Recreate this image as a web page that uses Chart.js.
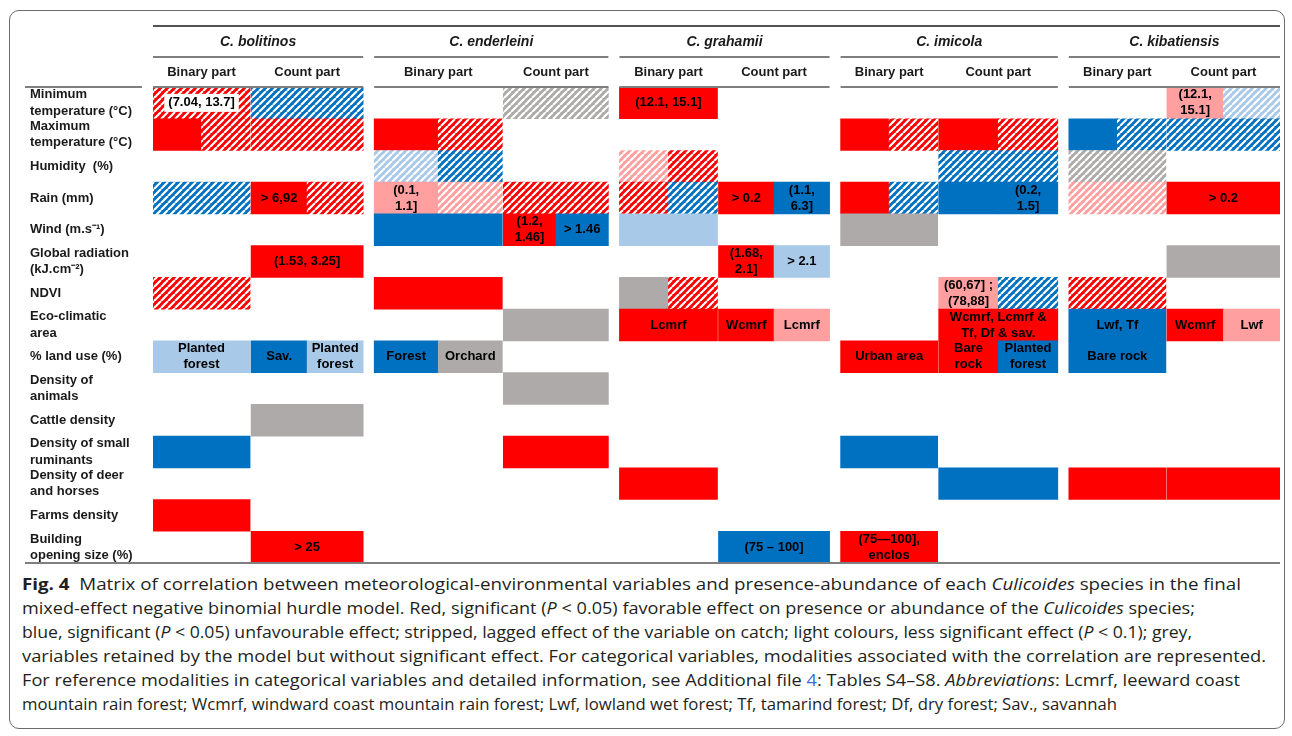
<!DOCTYPE html>
<html lang="en">
<head>
    <meta charset="UTF-8">
    <title>Fig. 4 Culicoides correlation matrix</title>
    <script src="https://cdn.jsdelivr.net/npm/chart.js"></script>
    <style>
        body {
            margin: 0;
            background: #ffffff;
            font-family: 'Liberation Sans', Arial, sans-serif;
        }

        .frame {
            position: absolute;
            left: 9px;
            top: 10px;
            width: 1274px;
            height: 717px;
            border: 1.5px solid #6b6b6b;
            border-radius: 10px;
        }

        .chart-box {
            position: absolute;
            left: 0;
            top: 0;
            width: 1292px;
            height: 570px;
        }

        .caption {
            position: absolute;
            left: 22px;
            top: 572px;
            font-family: 'Open Sans', 'Noto Sans', sans-serif;
            font-size: 16px;
            color: #231f20;
            line-height: 24px;
        }

        .caption .ln {
            display: block;
            width: max-content;
            white-space: nowrap;
            transform-origin: left center;
        }

        .caption .link { color: #3d6fd1; }
    </style>
</head>
<body>
    <div class="frame"></div>
    <div class="chart-box"><canvas id="matrix"></canvas></div>
    <div class="caption">
        <span class="ln" data-w="1219"><b>Fig. 4</b>&nbsp; Matrix of correlation between meteorological-environmental variables and presence-abundance of each <i>Culicoides</i> species in the final</span>
        <span class="ln" data-w="1173">mixed-effect negative binomial hurdle model. Red, significant (<i>P</i> &lt; 0.05) favorable effect on presence or abundance of the <i>Culicoides</i> species;</span>
        <span class="ln" data-w="1170">blue, significant (<i>P</i> &lt; 0.05) unfavourable effect; stripped, lagged effect of the variable on catch; light colours, less significant effect (<i>P</i> &lt; 0.1); grey,</span>
        <span class="ln" data-w="1244">variables retained by the model but without significant effect. For categorical variables, modalities associated with the correlation are represented.</span>
        <span class="ln" data-w="1218">For reference modalities in categorical variables and detailed information, see Additional file <span class="link">4</span>: Tables S4–S8. <i>Abbreviations</i>: Lcmrf, leeward coast</span>
        <span class="ln" data-w="1095">mountain rain forest; Wcmrf, windward coast mountain rain forest; Lwf, lowland wet forest; Tf, tamarind forest; Df, dry forest; Sav., savannah</span>
    </div>
    <script>
        // rows of the matrix
        const variables = [
            'Minimum temperature (°C)', 'Maximum temperature (°C)', 'Humidity (%)', 'Rain (mm)',
            'Wind (m.s-1)', 'Global radiation (kJ.cm-2)', 'NDVI', 'Eco-climatic area',
            '% land use (%)', 'Density of animals', 'Cattle density', 'Density of small ruminants',
            'Density of deer and horses', 'Farms density', 'Building opening size (%)'
        ];
        const variableLabels = [
            ['Minimum', 'temperature (°C)'], ['Maximum', 'temperature (°C)'], 'Humidity  (%)', 'Rain (mm)',
            'Wind (m.s⁻¹)', ['Global radiation', '(kJ.cm⁻²)'], 'NDVI', ['Eco-climatic', 'area'],
            '% land use (%)', ['Density of', 'animals'], 'Cattle density', ['Density of small', 'ruminants'],
            ['Density of deer', 'and horses'], 'Farms density', ['Building', 'opening size (%)']
        ];

        const species = ['C. bolitinos', 'C. enderleini', 'C. grahamii', 'C. imicola', 'C. kibatiensis'];
        const parts = ['Binary part', 'Count part'];

        // cell = [variable, part (0 binary, 1 count), half (0 whole, 1 left, 2 right), effect, lagged, modality]
        // effect: R significant favourable, B significant unfavourable, r / b less significant, G not significant
        const bolitinos = [
            [0, 0, 0, 'R', 1, '(7.04, 13.7]'],
            [0, 1, 0, 'B', 1, ''],
            [1, 0, 1, 'R', 0, ''],
            [1, 0, 2, 'R', 1, ''],
            [1, 1, 0, 'R', 1, ''],
            [3, 0, 0, 'B', 1, ''],
            [3, 1, 1, 'R', 0, '> 6,92'],
            [3, 1, 2, 'R', 1, ''],
            [5, 1, 0, 'R', 0, '(1.53, 3.25]'],
            [6, 0, 0, 'R', 1, ''],
            [8, 0, 0, 'b', 0, 'Planted\nforest'],
            [8, 1, 1, 'B', 0, 'Sav.'],
            [8, 1, 2, 'b', 0, 'Planted\nforest'],
            [10, 1, 0, 'G', 0, ''],
            [11, 0, 0, 'B', 0, ''],
            [13, 0, 0, 'R', 0, ''],
            [14, 1, 0, 'R', 0, '> 25']
        ];
        const enderleini = [
            [0, 1, 0, 'G', 1, ''],
            [1, 0, 1, 'R', 0, ''],
            [1, 0, 2, 'R', 1, ''],
            [2, 0, 1, 'b', 1, ''],
            [2, 0, 2, 'B', 1, ''],
            [3, 0, 1, 'r', 0, '(0.1,\n1.1]'],
            [3, 0, 2, 'r', 1, ''],
            [3, 1, 0, 'R', 1, ''],
            [4, 0, 0, 'B', 0, ''],
            [4, 1, 1, 'R', 0, '(1.2,\n1.46]'],
            [4, 1, 2, 'B', 0, '> 1.46'],
            [6, 0, 0, 'R', 0, ''],
            [7, 1, 0, 'G', 0, ''],
            [8, 0, 1, 'B', 0, 'Forest'],
            [8, 0, 2, 'G', 0, 'Orchard'],
            [9, 1, 0, 'G', 0, ''],
            [11, 1, 0, 'R', 0, '']
        ];
        const grahamii = [
            [0, 0, 0, 'R', 0, '(12.1, 15.1]'],
            [2, 0, 1, 'r', 1, ''],
            [2, 0, 2, 'R', 1, ''],
            [3, 0, 1, 'R', 1, ''],
            [3, 0, 2, 'B', 1, ''],
            [3, 1, 1, 'R', 0, '> 0.2'],
            [3, 1, 2, 'B', 0, '(1.1,\n6.3]'],
            [4, 0, 0, 'b', 0, ''],
            [5, 1, 1, 'R', 0, '(1.68,\n2.1]'],
            [5, 1, 2, 'b', 0, '> 2.1'],
            [6, 0, 1, 'G', 0, ''],
            [6, 0, 2, 'R', 1, ''],
            [7, 0, 0, 'R', 0, 'Lcmrf'],
            [7, 1, 1, 'R', 0, 'Wcmrf'],
            [7, 1, 2, 'r', 0, 'Lcmrf'],
            [12, 0, 0, 'R', 0, ''],
            [14, 1, 0, 'B', 0, '(75 – 100]']
        ];
        const imicola = [
            [1, 0, 1, 'R', 0, ''],
            [1, 0, 2, 'R', 1, ''],
            [1, 1, 1, 'R', 0, ''],
            [1, 1, 2, 'R', 1, ''],
            [2, 1, 0, 'B', 1, ''],
            [3, 0, 1, 'R', 0, ''],
            [3, 0, 2, 'B', 1, ''],
            [3, 1, 1, 'B', 0, ''],
            [3, 1, 2, 'B', 0, '(0.2,\n1.5]'],
            [4, 0, 0, 'G', 0, ''],
            [6, 1, 1, 'r', 0, '(60,67] ;\n(78,88]'],
            [6, 1, 2, 'B', 1, ''],
            [7, 1, 0, 'R', 0, 'Wcmrf, Lcmrf &\nTf, Df & sav.'],
            [8, 0, 0, 'R', 0, 'Urban area'],
            [8, 1, 1, 'R', 0, 'Bare\nrock'],
            [8, 1, 2, 'B', 0, 'Planted\nforest'],
            [11, 0, 0, 'B', 0, ''],
            [12, 1, 0, 'B', 0, ''],
            [14, 0, 0, 'R', 0, '(75—100],\nenclos']
        ];
        const kibatiensis = [
            [0, 1, 1, 'r', 0, '(12.1,\n15.1]'],
            [0, 1, 2, 'b', 1, ''],
            [1, 0, 1, 'B', 0, ''],
            [1, 0, 2, 'B', 1, ''],
            [1, 1, 0, 'B', 1, ''],
            [2, 0, 0, 'G', 1, ''],
            [3, 0, 0, 'r', 1, ''],
            [3, 1, 0, 'R', 0, '> 0.2'],
            [5, 1, 0, 'G', 0, ''],
            [6, 0, 0, 'R', 1, ''],
            [7, 0, 0, 'B', 0, 'Lwf, Tf'],
            [7, 1, 1, 'R', 0, 'Wcmrf'],
            [7, 1, 2, 'r', 0, 'Lwf'],
            [8, 0, 0, 'B', 0, 'Bare rock'],
            [12, 0, 0, 'R', 0, ''],
            [12, 1, 0, 'R', 0, '']
        ];
        const speciesCells = [bolitinos, enderleini, grahamii, imicola, kibatiensis];

        // layout of the columns (px units on the x axis)
        const colWidths = [[97, 112], [128, 105], [98, 111], [97, 119], [97, 113]];
        const blockGap = 11;
        const partGap = 1;
        const boxedLabels = ['(7.04, 13.7]'];

        const effectColors = {
            R: '#ff0000', B: '#0070c0', r: '#ff9f9f', b: '#a9c9e8', G: '#aeaaaa'
        };

        // column edges
        const blocks = [];
        let pos = 0;
        colWidths.forEach(([wb, wc]) => {
            blocks.push({ start: pos, binEnd: pos + wb, cntStart: pos + wb + partGap, end: pos + wb + partGap + wc });
            pos += wb + partGap + wc + blockGap;
        });
        const xMax = pos - blockGap;

        function partRange(s, p) {
            const b = blocks[s];
            return p === 0 ? [b.start, b.binEnd] : [b.cntStart, b.end];
        }

        const cells = [];
        speciesCells.forEach((list, s) => {
            list.forEach(([v, p, h, fx, lag, text]) => {
                const [a, b] = partRange(s, p);
                const mid = (a + b) / 2;
                const range = h === 0 ? [a, b] : h === 1 ? [a, mid] : [mid, b];
                cells.push({ v, range, fx, lag, text });
            });
        });

        const patternCache = {};
        function hatch(color) {
            if (patternCache[color]) return patternCache[color];
            const size = 7;
            const c = document.createElement('canvas');
            c.width = size;
            c.height = size;
            const g = c.getContext('2d');
            g.fillStyle = color;
            g.fillRect(0, 0, size, size);
            g.strokeStyle = '#ffffff';
            g.lineWidth = 2.2;
            g.beginPath();
            [-size, 0, size].forEach(o => {
                g.moveTo(o, size);
                g.lineTo(o + size, 0);
            });
            g.stroke();
            patternCache[color] = g.createPattern(c, 'repeat');
            return patternCache[color];
        }

        const labelFont = "bold 13px 'Liberation Sans', Arial, sans-serif";

        const matrixDecor = {
            id: 'matrixDecor',
            afterDatasetsDraw(chart) {
                const ctx = chart.ctx;
                const meta = chart.getDatasetMeta(0);
                ctx.save();
                ctx.font = labelFont;
                ctx.textAlign = 'center';
                ctx.textBaseline = 'middle';
                meta.data.forEach((bar, i) => {
                    const cell = cells[i];
                    if (!cell.text) return;
                    const { x, base, y } = bar.getProps(['x', 'base', 'y'], true);
                    const cx = (x + base) / 2;
                    const lines = cell.text.split('\n');
                    if (boxedLabels.includes(cell.text)) {
                        const w = ctx.measureText(cell.text).width + 8;
                        ctx.fillStyle = '#ffffff';
                        ctx.fillRect(cx - w / 2, y - 9, w, 18);
                    }
                    ctx.fillStyle = '#000000';
                    lines.forEach((ln, k) => {
                        ctx.fillText(ln, cx, y + (k - (lines.length - 1) / 2) * 16);
                    });
                });
                ctx.restore();
            },
            afterDraw(chart) {
                const ctx = chart.ctx;
                const xs = chart.scales.x;
                const area = chart.chartArea;
                const px = v => xs.getPixelForValue(v);
                ctx.save();

                const hline = (x0, x1, y, color, w) => {
                    ctx.strokeStyle = color;
                    ctx.lineWidth = w;
                    ctx.beginPath();
                    ctx.moveTo(x0, y);
                    ctx.lineTo(x1, y);
                    ctx.stroke();
                };

                hline(px(0), px(xMax), 26, '#1a1a1a', 1.6);
                hline(25, 142, area.top, '#7f7f7f', 1.8);
                hline(25, px(xMax), area.bottom, '#7f7f7f', 1.8);

                ctx.fillStyle = '#1a1a1a';
                ctx.textAlign = 'center';
                ctx.textBaseline = 'middle';
                blocks.forEach((b, s) => {
                    hline(px(b.start), px(b.end), 57, '#7f7f7f', 1.8);
                    hline(px(b.start), px(b.end), area.top, '#7f7f7f', 1.8);
                    ctx.font = "italic bold 14px 'Liberation Sans', Arial, sans-serif";
                    ctx.fillText(species[s], (px(b.start) + px(b.end)) / 2, 42);
                    ctx.font = "bold 13px 'Liberation Sans', Arial, sans-serif";
                    parts.forEach((p, k) => {
                        const [a, e] = partRange(s, k);
                        ctx.fillText(p, (px(a) + px(e)) / 2, 72);
                    });
                });
                ctx.restore();
            }
        };

        const matrixCtx = document.getElementById('matrix').getContext('2d');
        new Chart(matrixCtx, {
            type: 'bar',
            data: {
                labels: variables,
                datasets: [{
                    data: cells.map(c => ({ x: c.range, y: variables[c.v] })),
                    backgroundColor: ctx => {
                        const cell = cells[ctx.dataIndex];
                        if (!cell) return 'transparent';
                        const col = effectColors[cell.fx];
                        return cell.lag ? hatch(col) : col;
                    },
                    borderWidth: 0,
                    borderSkipped: false,
                    barPercentage: 1,
                    categoryPercentage: 1
                }]
            },
            options: {
                indexAxis: 'y',
                responsive: true,
                maintainAspectRatio: false,
                animation: false,
                layout: { padding: { left: 30, top: 87, right: 12, bottom: 7 } },
                plugins: {
                    legend: { display: false },
                    tooltip: { enabled: false }
                },
                scales: {
                    x: { type: 'linear', min: 0, max: xMax, display: false },
                    y: {
                        type: 'category',
                        grid: { display: false },
                        border: { display: false },
                        ticks: {
                            autoSkip: false,
                            crossAlign: 'far',
                            padding: 0,
                            color: '#1a1a1a',
                            font: { family: "'Liberation Sans', Arial, sans-serif", size: 13, weight: 'bold', lineHeight: 1.25 },
                            callback: (v, i) => variableLabels[i]
                        },
                        afterFit: scale => {
                            scale.width = 123;
                            scale.paddingTop = 0;
                            scale.paddingBottom = 0;
                        }
                    }
                }
            },
            plugins: [matrixDecor]
        });

        // fit each caption line to its width in the figure
        document.fonts.ready.then(() => {
            document.querySelectorAll('.caption .ln').forEach(el => {
                const w = el.getBoundingClientRect().width;
                el.style.transform = 'scaleX(' + (+el.dataset.w / w) + ')';
            });
        });
    </script>
</body>
</html>
